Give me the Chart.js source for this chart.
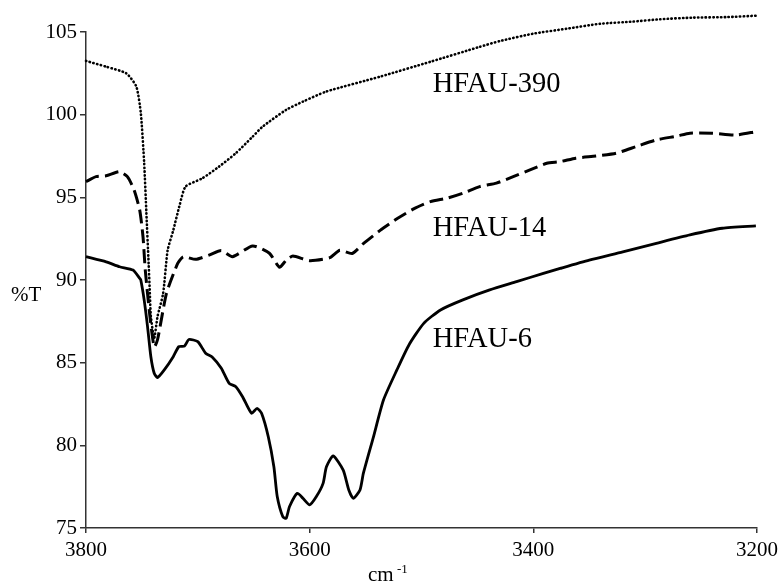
<!DOCTYPE html>
<html>
<head>
<meta charset="utf-8">
<script src="https://cdn.jsdelivr.net/npm/chart.js@4/dist/chart.umd.min.js"></script>
<style>
  html, body { margin: 0; padding: 0; background: #fff; }
  #wrap { width: 783px; height: 584px; position: relative; }
</style>
</head>
<body>
<div id="wrap"><canvas id="irChart"></canvas></div>
<script>
// wavenumbers (cm-1) and transmittance (%T)
const hfau390Wn = [3800, 3782, 3764, 3755, 3751, 3748, 3746, 3744, 3743, 3742, 3739, 3736, 3731, 3727, 3722, 3716, 3711, 3696, 3681, 3666, 3651, 3642, 3621, 3606, 3585, 3537, 3492, 3448, 3430, 3400, 3370, 3340, 3311, 3287, 3257, 3227, 3200];
const hfau390T = [103.25, 102.9, 102.5, 101.7, 100.1, 97.1, 94.05, 91.0, 89.4, 87.8, 86.5, 87.8, 89.2, 91.8, 93.0, 94.6, 95.65, 96.15, 96.86, 97.67, 98.67, 99.28, 100.29, 100.79, 101.4, 102.3, 103.2, 104.1, 104.45, 104.9, 105.2, 105.5, 105.63, 105.77, 105.87, 105.9, 105.99];

const hfau14Wn = [3800, 3791, 3782, 3770, 3763, 3757, 3752, 3749, 3747, 3743, 3739, 3736, 3728, 3718, 3713, 3702, 3690, 3679, 3669, 3651, 3636, 3627, 3621, 3615, 3600, 3582, 3573, 3562, 3552, 3537, 3522, 3507, 3492, 3477, 3463, 3448, 3433, 3418, 3403, 3388, 3376, 3362, 3344, 3326, 3308, 3290, 3272, 3260, 3240, 3219, 3201];
const hfau14T = [95.95, 96.25, 96.3, 96.55, 96.25, 95.45, 94.24, 92.6, 90.6, 87.9, 85.95, 86.4, 89.2, 91.0, 91.4, 91.25, 91.5, 91.78, 91.41, 92.06, 91.62, 90.77, 91.2, 91.45, 91.17, 91.35, 91.8, 91.6, 92.2, 93.0, 93.7, 94.3, 94.74, 94.95, 95.25, 95.65, 95.86, 96.25, 96.66, 97.06, 97.16, 97.37, 97.5, 97.67, 98.07, 98.47, 98.7, 98.88, 98.88, 98.77, 98.97];

const hfau6Wn = [3800, 3782, 3770, 3758, 3752, 3751, 3748, 3745, 3742, 3739, 3736, 3730, 3722, 3717, 3712, 3708, 3700, 3693, 3687, 3679, 3672, 3666, 3660, 3652, 3647, 3643, 3637, 3632, 3629, 3624, 3621, 3618, 3611, 3606, 3600, 3594, 3588, 3585, 3579, 3570, 3565, 3561, 3555, 3552, 3543, 3534, 3522, 3511, 3498, 3483, 3463, 3439, 3415, 3391, 3376, 3350, 3320, 3290, 3260, 3231, 3201];
const hfau6T = [91.41, 91.1, 90.8, 90.6, 90.1, 90.0, 88.8, 87.2, 85.36, 84.36, 84.1, 84.56, 85.36, 85.97, 86.0, 86.4, 86.27, 85.57, 85.33, 84.66, 83.75, 83.55, 82.94, 81.94, 82.24, 81.94, 80.52, 78.7, 76.9, 75.68, 75.59, 76.3, 77.1, 76.8, 76.4, 76.9, 77.7, 78.7, 79.36, 78.5, 77.3, 76.8, 77.3, 78.3, 80.5, 82.74, 84.56, 86.1, 87.38, 88.19, 88.8, 89.4, 89.9, 90.4, 90.7, 91.2, 91.7, 92.22, 92.73, 93.13, 93.27];

const xTicks = [3800, 3600, 3400, 3200];
const yTicks = [75, 80, 85, 90, 95, 100, 105];

// curve labels: [text, wavenumber, %T at baseline]
const seriesLabels = [
  ['HFAU-390', 3490, 101.4],
  ['HFAU-14', 3490, 92.66],
  ['HFAU-6', 3490, 85.95]
];

const serif = "'Liberation Serif', 'Times New Roman', serif";

function toPoints(xs, ys) {
  return xs.map((x, i) => ({ x: x, y: ys[i] }));
}

const textPlugin = {
  id: 'irText',
  afterDraw(chart) {
    const ctx = chart.ctx;
    const xs = chart.scales.x;
    const ys = chart.scales.y;
    ctx.save();
    ctx.fillStyle = '#000';
    ctx.textBaseline = 'alphabetic';
    ctx.textAlign = 'left';

    ctx.font = '28.5px ' + serif;
    seriesLabels.forEach(l => {
      ctx.fillText(l[0], xs.getPixelForValue(l[1]), ys.getPixelForValue(l[2]));
    });

    // y axis title
    ctx.font = '21px ' + serif;
    ctx.fillText('%T', 11, 301);

    // x axis title with superscript
    ctx.fillText('cm', 368, 581);
    ctx.font = '13px ' + serif;
    ctx.fillText('-1', 397, 573);
    ctx.restore();
  }
};

new Chart(document.getElementById('irChart'), {
  type: 'line',
  data: {
    datasets: [
      {
        label: 'HFAU-390',
        data: toPoints(hfau390Wn, hfau390T),
        borderColor: '#000',
        borderWidth: 2.6,
        borderDash: [0.4, 3.4],
        borderCapStyle: 'round',
        pointRadius: 0,
        tension: 0.2,
        clip: false
      },
      {
        label: 'HFAU-14',
        data: toPoints(hfau14Wn, hfau14T),
        borderColor: '#000',
        borderWidth: 3,
        borderDash: [14, 6],
        pointRadius: 0,
        tension: 0.2,
        clip: false
      },
      {
        label: 'HFAU-6',
        data: toPoints(hfau6Wn, hfau6T),
        borderColor: '#000',
        borderWidth: 2.8,
        pointRadius: 0,
        tension: 0.2,
        clip: false
      }
    ]
  },
  options: {
    responsive: true,
    maintainAspectRatio: false,
    animation: false,
    layout: {
      padding: { top: 32, right: 26, left: 0, bottom: 0 }
    },
    plugins: {
      legend: { display: false },
      tooltip: { enabled: false }
    },
    scales: {
      x: {
        type: 'linear',
        reverse: true,
        min: 3200,
        max: 3800,
        afterFit: s => { s.height = 56; },
        afterBuildTicks: s => { s.ticks = xTicks.map(v => ({ value: v })); },
        ticks: {
          color: '#000',
          font: { family: serif, size: 21 },
          padding: 5,
          maxRotation: 0,
          callback: v => String(v)
        },
        grid: {
          drawOnChartArea: false,
          tickLength: 5,
          color: '#333',
          lineWidth: 1.5
        },
        border: { color: '#333', width: 1.5 }
      },
      y: {
        min: 75,
        max: 105,
        afterFit: s => { s.width = 86; },
        afterBuildTicks: s => { s.ticks = yTicks.map(v => ({ value: v })); },
        ticks: {
          color: '#000',
          font: { family: serif, size: 21 },
          padding: 3,
          callback: v => String(v)
        },
        grid: {
          drawOnChartArea: false,
          tickLength: 6,
          color: '#333',
          lineWidth: 1.5
        },
        border: { color: '#333', width: 1.5 }
      }
    }
  },
  plugins: [textPlugin]
});
</script>
</body>
</html>
